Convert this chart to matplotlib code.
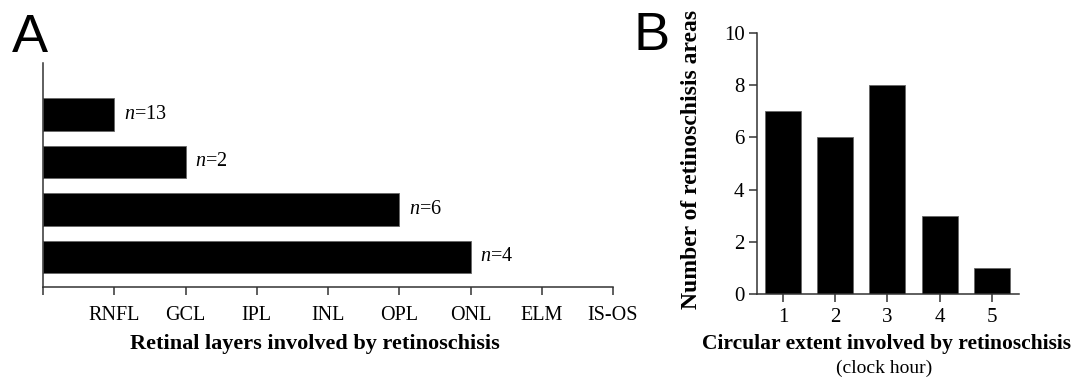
import matplotlib
matplotlib.use("Agg")
import matplotlib.pyplot as plt

plt.rcParams['font.family'] = ['Liberation Serif', 'DejaVu Serif']
plt.rcParams['mathtext.fontset'] = 'custom'
plt.rcParams['mathtext.rm'] = 'Liberation Serif'
plt.rcParams['mathtext.it'] = 'Liberation Serif:italic'

# Panel A data: retinal layers
layer_labels = ['RNFL', 'GCL', 'IPL', 'INL', 'OPL', 'ONL', 'ELM', 'IS-OS']
bar_ends = [1, 2, 5, 6]          # deepest layer reached by each group (top to bottom)
bar_counts = [13, 2, 6, 4]

# Panel B data: circular extent
clock_hours = [1, 2, 3, 4, 5]
area_counts = [7, 6, 8, 3, 1]

spine_col = '#333333'

fig = plt.figure(figsize=(10.76, 3.77), dpi=100)

# ---- Panel A
axA = fig.add_axes([0.0400, 0.2387, 0.5297, 0.5942])
ypos = list(range(len(bar_ends)))[::-1]
axA.barh(ypos, bar_ends, height=0.69, color='black', edgecolor='#666666', linewidth=0.6)
for y, e, c in zip(ypos, bar_ends, bar_counts):
    axA.annotate(f'$\\it{{n}}$={c}', xy=(e, y), xytext=(7, 0), textcoords='offset points',
                 va='center', ha='left', fontsize=14.5)
axA.set_xlim(0, 8)
axA.set_ylim(-0.632, 4.084)
axA.set_xticks(range(0, 9))
axA.set_xticklabels([''] + layer_labels, fontsize=14.5)
axA.set_yticks([])
for s in ['top', 'right']:
    axA.spines[s].set_visible(False)
for s in ['left', 'bottom']:
    axA.spines[s].set_color(spine_col)
    axA.spines[s].set_linewidth(1.1)
axA.tick_params(axis='x', direction='out', length=6, width=1.1, color=spine_col, pad=8)
axA.set_xlabel('Retinal layers involved by retinoschisis', fontsize=16, fontweight='bold')
axA.xaxis.set_label_coords(0.477, -0.21)

# ---- Panel B
axB = fig.add_axes([0.7035, 0.2202, 0.2435, 0.6923])
axB.bar(clock_hours, area_counts, width=0.69, color='black', edgecolor='#666666', linewidth=0.6)
axB.set_xlim(0.502, 5.517)
axB.set_ylim(0, 10)
axB.set_xticks(clock_hours)
axB.set_yticks(range(0, 11, 2))
axB.tick_params(labelsize=15, direction='out', length=6, width=1.1, color=spine_col, pad=3)
axB.tick_params(axis='x', pad=4)
for s in ['top', 'right']:
    axB.spines[s].set_visible(False)
for s in ['left', 'bottom']:
    axB.spines[s].set_color(spine_col)
    axB.spines[s].set_linewidth(1.1)
axB.set_ylabel('Number of retinoschisis areas', fontsize=17, fontweight='bold')
axB.yaxis.set_label_coords(-0.21, 0.515)
axB.set_xlabel('Circular extent involved by retinoschisis', fontsize=15.5, fontweight='bold')
axB.xaxis.set_label_coords(0.496, -0.155)
axB.text(0.485, -0.25, '(clock hour)', transform=axB.transAxes, ha='center', va='top', fontsize=14)

# panel letters
fig.text(0.011, 0.862, 'A', family='Liberation Sans', fontsize=39, va='baseline', ha='left')
fig.text(0.589, 0.867, 'B', family='Liberation Sans', fontsize=39, va='baseline', ha='left')

fig.savefig('out.png', dpi=100)
